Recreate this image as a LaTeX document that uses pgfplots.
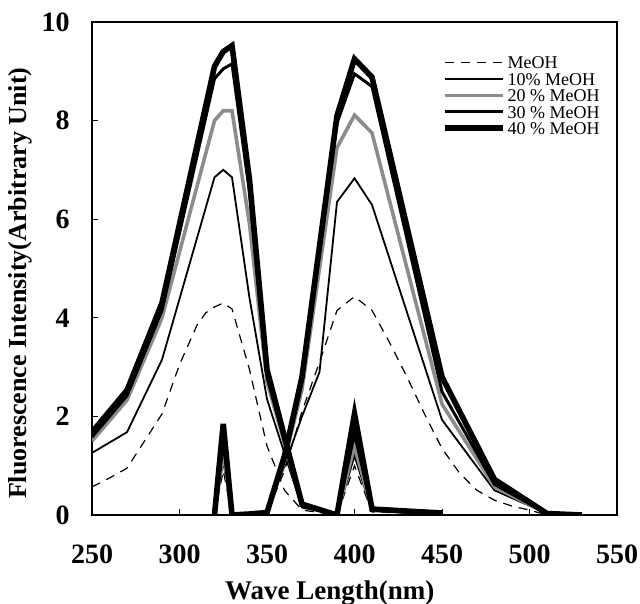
\documentclass[border=0pt]{standalone}
\usepackage{fontspec}
\setmainfont{Liberation Serif}
\usepackage{pgfplots}
\pgfplotsset{compat=1.18}
\begin{document}
\begin{tikzpicture}
\begin{axis}[
  name=ax,
  scale only axis,
  width=262.5pt, height=246.5pt,
  xmin=250, xmax=550, ymin=0, ymax=10,
  xtick={250,300,...,550}, ytick={0,2,...,10},
  xtick pos=lower, ytick pos=left,
  tick align=inside,
  major tick length=3pt,
  axis line style={line width=0.6pt},
  every tick/.style={black, line width=0.5pt},
  /pgf/number format/assume math mode=true,
  ticklabel style={font=\fontsize{14}{16}\selectfont\bfseries},
  xticklabel style={anchor=base, yshift=-24pt},
  yticklabel style={anchor=east, inner sep=0pt, xshift=-11pt},
  xlabel={Wave Length(nm)},
  ylabel={Fluorescence Intensity(Arbitrary Unit)},
  xlabel style={font=\fontsize{13.5}{15}\selectfont\bfseries, anchor=base, at={(axis description cs:0.453,-0.1724)}},
  ylabel style={font=\fontsize{13}{14}\selectfont\bfseries, anchor=center, at={(axis description cs:-0.137,0.47)}},
  legend style={draw=none, fill=none, at={(axis description cs:0.666,0.935)}, anchor=north west,
    inner sep=0pt, font=\fontsize{9}{9}\selectfont,
    nodes={text height=6.2pt, text depth=0pt, inner sep=1pt},
    row sep=0pt, /tikz/every even column/.append style={column sep=0pt}},
  legend cell align=left,
  legend image code/.code={\draw[#1] (0pt,0pt) -- (29pt,0pt);},
]
% MeOH
\addplot[black, line width=0.6pt, dash pattern=on 4.5pt off 3.5pt] coordinates {
(250,0.57)(260,0.75)(270,0.95)(280,1.5)(290,2.05)(300,3.05)(310,3.85)(315,4.1)(320,4.22)(325,4.3)(330,4.18)(340,2.95)(350,1.4)(360,0.5)(370,0.1)(390,0)(400,1.0)(410,0.06)(450,0.02)};
\addlegendentry{MeOH}
\addplot[black, line width=0.6pt, dash pattern=on 4.5pt off 3.5pt, forget plot] coordinates {
(320,0)(325,0.9)(330,0)(350,0.03)(360,0.9)(370,2.1)(380,3.1)(390,4.15)(400,4.43)(410,4.15)(420,3.5)(430,2.8)(440,2.05)(450,1.35)(460,0.85)(470,0.5)(480,0.3)(490,0.18)(500,0.1)(510,0)(530,0)};
% 10%
\addplot[black, line width=0.9pt] coordinates {
(250,1.26)(270,1.68)(290,3.15)(320,6.85)(325,7.0)(330,6.85)(340,4.4)(350,2.35)(370,0.15)(390,0)(400,1.2)(410,0.08)(450,0.03)};
\addlegendentry{10\% MeOH}
\addplot[black, line width=0.9pt, forget plot] coordinates {
(320,0)(325,1.1)(330,0)(340,0.02)(350,0.05)(360,1.0)(370,2.0)(380,2.9)(390,6.35)(400,6.83)(410,6.29)(450,1.93)(480,0.5)(510,0.03)(530,0)};
% 20%
\addplot[black!45, line width=1.8pt] coordinates {
(250,1.5)(270,2.33)(290,4.0)(320,8.0)(325,8.2)(330,8.2)(340,5.9)(350,2.7)(370,0.2)(390,0)(400,1.4)(410,0.1)(450,0.04)};
\addlegendentry{20 \% MeOH}
\addplot[black!45, line width=1.8pt, forget plot] coordinates {
(320,0)(325,1.3)(330,0)(340,0.02)(350,0.05)(360,1.1)(370,2.55)(390,7.45)(400,8.11)(410,7.75)(450,2.25)(480,0.57)(510,0.03)(530,0)};
% 30%
\addplot[black, line width=1.5pt] coordinates {
(250,1.58)(270,2.42)(290,4.15)(320,8.85)(325,9.05)(330,9.15)(340,6.55)(350,2.8)(370,0.2)(390,0)(400,1.65)(410,0.1)(450,0.04)};
\addlegendentry{30 \% MeOH}
\addplot[black, line width=1.5pt, forget plot] coordinates {
(320,0)(325,1.5)(330,0)(340,0.02)(350,0.05)(360,1.15)(370,2.7)(390,7.95)(400,8.95)(410,8.69)(450,2.5)(480,0.62)(510,0.03)(530,0)};
% 40%
\addplot[black, line width=2.8pt] coordinates {
(250,1.68)(270,2.53)(290,4.3)(320,9.1)(325,9.4)(330,9.52)(340,6.8)(350,2.95)(370,0.22)(390,0)(400,2.05)(410,0.12)(450,0.04)};
\addlegendentry{40 \% MeOH}
\addplot[black, line width=2.8pt, forget plot] coordinates {
(320,0)(325,1.85)(330,0)(340,0.02)(350,0.05)(360,1.2)(370,2.8)(390,8.1)(400,9.25)(410,8.88)(450,2.8)(480,0.72)(510,0.03)(530,0)};
\end{axis}
\pgfresetboundingbox
\path[use as bounding box] ([xshift=-46pt,yshift=-44pt]ax.south west) rectangle ([xshift=11.5pt,yshift=11pt]ax.north east);
\end{tikzpicture}
\end{document}
